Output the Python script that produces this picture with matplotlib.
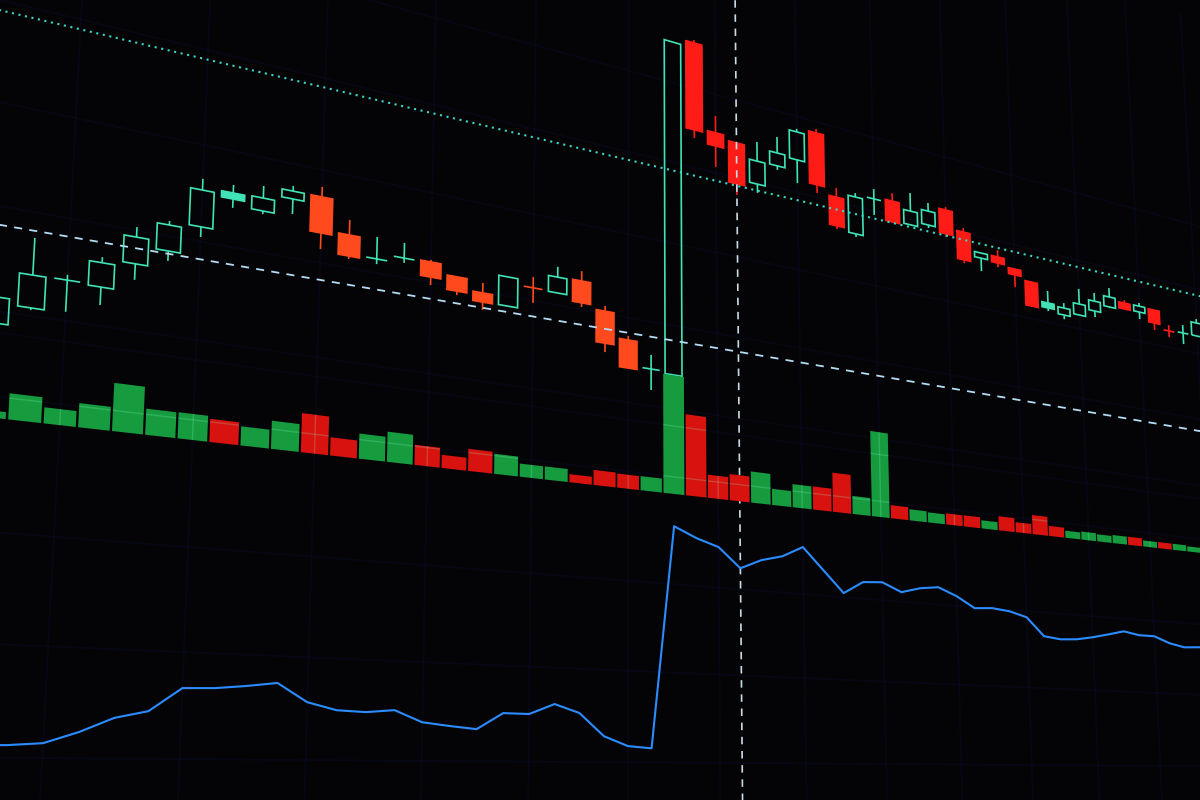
import numpy as np
import matplotlib
matplotlib.use("Agg")
import matplotlib.pyplot as plt
from matplotlib.transforms import Transform
from matplotlib.patches import Rectangle
from matplotlib.collections import LineCollection

# ------------------------------------------------------------------ data
opens = [22.1, 26.9, 34.9, 34.5, 41.6, 46.2, 53.8, 62.5, 60.9, 65.6,
         67.7, 58.9, 53.8, 55.4, 55.7, 52.9, 49.7, 47.2, 53.7, 53.5,
         58.3, 50.7, 43.4, 35.9, 35.2, 139.6, 112.7, 111.2, 99.6, 107.1,
         110.7, 121.3, 101.6, 90.9, 104.1, 104.9, 98.3, 99.7, 106.4, 100.2,
         92.5, 94.3, 91.4, 88.1, 80.1, 78.8, 80.0, 82.7, 85.4, 88.1,
         86.0, 88.0, 81.3, 81.7, 81.7]
highs = [30.2, 43.8, 36.2, 41.9, 50.8, 53.8, 66.2, 66.2, 67.5, 69.1,
         70.4, 63.0, 59.8, 59.6, 56.3, 53.1, 52.5, 55.5, 56.8, 61.1,
         61.2, 52.2, 44.6, 40.1, 137.9, 140.5, 118.1, 111.2, 113.2, 116.5,
         120.9, 122.6, 104.6, 104.5, 107.4, 107.6, 109.2, 107.3, 107.4, 101.6,
         94.3, 96.7, 91.4, 88.1, 86.2, 83.1, 89.5, 89.3, 92.4, 89.2,
         89.4, 88.0, 83.5, 84.7, 88.2]
lows = [20.5, 26.4, 27.2, 30.1, 37.6, 43.7, 51.2, 60.2, 60.1, 61.6,
        53.7, 52.4, 52.4, 54.1, 49.3, 47.8, 44.9, 47.2, 49.4, 53.5,
        50.7, 38.7, 35.1, 29.7, 35.2, 109.3, 101.9, 94.6, 96.8, 105.8,
        103.1, 101.4, 91.1, 89.9, 98.7, 97.8, 98.3, 98.7, 97.0, 89.4,
        88.0, 90.7, 85.0, 79.5, 79.0, 77.3, 80.0, 80.5, 85.0, 85.9,
        83.4, 80.5, 79.0, 77.5, 81.7]
closes = [28.3, 34.8, 34.9, 40.5, 48.3, 52.8, 63.3, 64.1, 64.3, 67.7,
          58.0, 53.2, 53.8, 55.4, 51.5, 48.9, 47.1, 55.5, 53.7, 58.1,
          51.9, 41.3, 35.1, 35.9, 137.9, 111.9, 108.5, 98.1, 107.0, 111.3,
          119.9, 104.1, 92.1, 103.2, 104.1, 97.8, 103.0, 104.5, 98.1, 90.5,
          94.3, 92.1, 89.3, 79.5, 81.9, 81.3, 84.0, 86.3, 89.1, 85.9,
          88.2, 83.1, 81.3, 81.7, 86.7]
candle_side = ("GGGGGGGGGG" "RRGGRRRGRG" "RRRGGRRRGG"
               "GRRGGRGGRR" "GRRRGGGGGR" "GRRGG")
solid_up = [7, 44]

volume = [6.5, 24.5, 15.2, 23.1, 46.7, 25.5, 25.8, 23.0, 19.2, 28.6,
          40.2, 18.8, 26.3, 31.9, 21.5, 14.1, 24.0, 22.0, 14.5, 14.6,
          9.1, 17.1, 16.1, 16.3, 140.2, 96.1, 27.4, 31.3, 37.6, 19.6,
          28.4, 28.6, 48.9, 22.7, 108.7, 16.7, 14.2, 13.0, 14.4, 14.6,
          10.7, 18.8, 13.5, 25.9, 13.7, 9.7, 11.1, 9.8, 11.3, 11.4,
          8.6, 8.7, 8.7, 7.3, 7.0]
volume_side = ("GGGGGGGRGG" "RRGGRRRGGG" "RRRGGRRRGG"
               "GRRGGRGGRR" "GRRRRGGGGR" "GRGGG")

indicator = [8.0, 8.1, 8.8, 12.3, 16.8, 19.1, 26.6, 26.9, 27.9, 29.2,
             23.2, 20.8, 20.4, 21.3, 17.4, 16.3, 15.4, 21.2, 21.1, 24.9,
             21.9, 13.7, 10.2, 9.5, 94.1, 90.3, 87.6, 80.0, 84.0, 86.3,
             90.8, 82.1, 73.4, 78.6, 79.2, 75.7, 78.0, 79.1, 75.9, 71.3,
             71.9, 71.1, 69.0, 61.1, 60.2, 60.7, 62.1, 63.9, 65.8, 64.5,
             64.5, 61.7, 60.2, 60.7, 60.6]

resistance_level = 97.5
support_level = 45.5
cursor_index = 27
price_grid = [25, 50, 75, 100, 125]
volume_grid = [20, 80]
indicator_grid = [4.3, 38.0, 71.7]
grid_candles = list(range(-2, 72, 4))

# ------------------------------------------------------------------ style
BG = "#040407"
TEAL = "#3fe3b6"
RED_L = "#ff4a1e"
RED_R = "#ff1c16"
VOL_G = "#169c3e"
VOL_R = "#d8130f"
LINE = "#2b8cff"
GRID = (0.2, 0.25, 1.0, 0.055)
GRID_ON_BAR = (0.6, 1.0, 0.85, 0.2)

W_PX, H_PX = 1200, 800
fig = plt.figure(figsize=(12, 8), dpi=100, facecolor=BG)


# perspective of the photographed monitor (homography in pixel space)
class MonitorTilt(Transform):
    input_dims = 2
    output_dims = 2
    is_separable = False
    has_inverse = False

    def __init__(self, mat, height):
        super().__init__()
        self._m = np.asarray(mat, float)
        self._h = height

    def transform_non_affine(self, values):
        v = np.asarray(values, float)
        one = v.ndim == 1
        v = np.atleast_2d(v)
        m = self._m
        U = v[:, 0]
        V = self._h - v[:, 1]
        den = m[2, 0] * U + m[2, 1] * V + m[2, 2]
        x = (m[0, 0] * U + m[0, 1] * V + m[0, 2]) / den
        y = (m[1, 0] * U + m[1, 1] * V + m[1, 2]) / den
        out = np.column_stack([x, self._h - y])
        return out[0] if one else out


c1 = 1 / 3230.0
c2 = -1 / 10600.0
HOMO = [[1.0, 637 * c2, 0.0],
        [780 * c1, -10600 * c2, 0.0],
        [c1, c2, 1.0]]
tilt = MonitorTilt(HOMO, H_PX)

n = len(opens)
idx = np.arange(n)
XLIM = (-0.3815, 68.466)

ax_p = fig.add_axes([0, 0.5, 2.0, 0.5])
ax_v = fig.add_axes([0, 0.5, 2.0, 0.25])
ax_i = fig.add_axes([0, 0.1, 2.0, 0.375])
limits = [(ax_p, (0, 100)), (ax_v, (0, 200)), (ax_i, (0, 100))]
for ax, yl in limits:
    ax.set_xlim(*XLIM)
    ax.set_ylim(*yl)
    ax.set_axis_off()
    ax.patch.set_visible(False)

tp = ax_p.transData + tilt
tv = ax_v.transData + tilt
ti = ax_i.transData + tilt

# ------------------------------------------------------------------ grid
gl = ax_p.vlines(grid_candles, -140, 210, colors=[GRID], lw=1.2, zorder=1)
gl.set_transform(tp)
gl.set_clip_on(False)
for ax, tr, levels in [(ax_p, tp, price_grid), (ax_v, tv, volume_grid),
                       (ax_i, ti, indicator_grid)]:
    hl = ax.hlines(levels, -3, 72, colors=[GRID], lw=1.2, zorder=1)
    hl.set_transform(tr)
    hl.set_clip_on(False)

# ------------------------------------------------------------------ volume
vcols = [VOL_G if s == "G" else VOL_R for s in volume_side]
bars = ax_v.bar(idx, volume, width=0.93, color=vcols, linewidth=0, zorder=2)
for b in bars:
    b.set_transform(tv)
    b.set_clip_on(False)

# grid lines seen through the volume bars (lighter), clipped to each bar
for i, b in enumerate(bars):
    segs = []
    if (i - grid_candles[0]) % 4 == 0:
        segs.append([(i, 0), (i, volume[i])])
    for lv in volume_grid:
        if lv < volume[i]:
            segs.append([(i - 0.465, lv), (i + 0.465, lv)])
    if segs:
        lc = LineCollection(segs, colors=[GRID_ON_BAR], linewidths=1.0, zorder=2.5)
        ax_v.add_collection(lc, autolim=False)
        lc.set_transform(tv)
        lc.set_clip_on(False)

# ------------------------------------------------------------------ candles
BW = 0.76
wick_segs, wick_cols = [], []
for i in range(n):
    o, h, l, c = opens[i], highs[i], lows[i], closes[i]
    up = candle_side[i] == "G"
    col = TEAL if up else (RED_L if i < 24 else RED_R)
    top, bot = max(o, c), min(o, c)
    if abs(o - c) < 0.05:
        wick_segs.append([(i, l), (i, h)])
        wick_cols.append(col)
        wick_segs.append([(i - BW / 2, o), (i + BW / 2, o)])
        wick_cols.append(col)
        continue
    filled = (not up) or (i in solid_up)
    r = Rectangle((i - BW / 2, bot), BW, top - bot,
                  facecolor=col if filled else "none", edgecolor=col,
                  linewidth=1.2, zorder=3)
    ax_p.add_patch(r)
    r.set_transform(tp)
    r.set_clip_on(False)
    if h > top:
        wick_segs.append([(i, top), (i, h)])
        wick_cols.append(col)
    if l < bot:
        wick_segs.append([(i, l), (i, bot)])
        wick_cols.append(col)

wc = LineCollection(wick_segs, colors=wick_cols, linewidths=1.2, zorder=3)
ax_p.add_collection(wc, autolim=False)
wc.set_transform(tp)
wc.set_clip_on(False)

# ------------------------------------------------------------------ reference lines
r1 = ax_p.hlines(resistance_level, -3, 72, colors="#3cd6c4",
                 linestyles=(0, (1.0, 2.2)), lw=1.5, zorder=4)
r2 = ax_p.hlines(support_level, -3, 72, colors="#b4dcf2",
                 linestyles=(0, (4.5, 4.0)), lw=1.3, zorder=4)
r3 = ax_p.vlines(cursor_index, -140, 210, colors="#c9dbe6",
                 linestyles=(0, (4.5, 4.0)), lw=1.2, zorder=4)
for art in (r1, r2, r3):
    art.set_transform(tp)
    art.set_clip_on(False)

# ------------------------------------------------------------------ indicator
ln, = ax_i.plot(idx, indicator, color=LINE, lw=1.5, zorder=4,
                solid_joinstyle="round")
ln.set_transform(ti)
ln.set_clip_on(False)

for ax, yl in limits:
    ax.set_xlim(*XLIM)
    ax.set_ylim(*yl)

fig.savefig("out.png", dpi=100, facecolor=BG)
